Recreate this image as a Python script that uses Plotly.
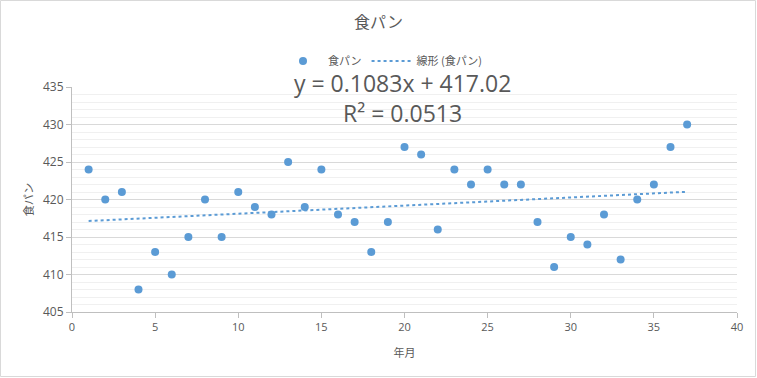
import numpy as np
import plotly.graph_objects as go

months = list(range(1, 38))
bread = [424, 420, 421, 408, 413, 410, 415, 420, 415, 421,
         419, 418, 425, 419, 424, 418, 417, 413, 417, 427,
         426, 416, 424, 422, 424, 422, 422, 417, 411, 415,
         414, 418, 412, 420, 422, 427, 430]
series_name = "食パン"
trend_name = "線形 (食パン)"
eq_text = "y = 0.1083x + 417.02"
r2_text = "R² = 0.0513"

slope, intercept = np.polyfit(months, bread, 1)
tx = [min(months), max(months)]
ty = [slope * v + intercept for v in tx]

W, H = 757, 378
L, R, T, B = 72, 20, 87, 66
pw, ph = W - L - R, H - T - B

color = "#5B9BD5"
txt = "#595959"
font = "Open Sans, Noto Sans CJK JP, sans-serif"

fig = go.Figure()
fig.add_trace(go.Scatter(x=months, y=bread, mode="markers", name=series_name,
                         marker=dict(color=color, size=8)))
fig.add_trace(go.Scatter(x=tx, y=ty, mode="lines", name=trend_name,
                         line=dict(color=color, width=2, dash="dot")))

fig.update_layout(
    width=W, height=H,
    margin=dict(l=L, r=R, t=T, b=B),
    paper_bgcolor="white", plot_bgcolor="white",
    font=dict(family=font, color=txt, size=11),
    title=dict(text=series_name, x=0.5, xref="container", y=1 - 22 / H, yref="container",
               xanchor="center", yanchor="middle",
               font=dict(size=16, color=txt, family="Noto Sans CJK JP")),
    legend=dict(orientation="h", x=(383 - L) / pw, xanchor="center",
                y=1 + (T - 61) / ph, yanchor="middle",
                font=dict(size=11, color=txt, family="Noto Sans CJK JP"),
                itemwidth=40, bgcolor="rgba(0,0,0,0)"),
    showlegend=True,
)

fig.update_xaxes(range=[0, 40], dtick=5, tick0=0, showgrid=False, zeroline=False,
                 showline=True, linecolor="#BFBFBF", linewidth=1,
                 ticks="outside", ticklen=5, tickcolor="#BFBFBF",
                 tickfont=dict(size=11, color=txt),
                 title=dict(text="年月", font=dict(size=11, color=txt, family="Noto Sans CJK JP"),
                            standoff=16))
fig.update_yaxes(range=[405, 435], dtick=5, tick0=405, showgrid=True, gridcolor="#D9D9D9",
                 gridwidth=1, zeroline=False,
                 showline=True, linecolor="#BFBFBF", linewidth=1,
                 ticks="outside", ticklen=5, tickcolor="#BFBFBF",
                 tickfont=dict(size=12, color=txt),
                 minor=dict(dtick=1, showgrid=True, gridcolor="#F0F0F0", gridwidth=1),
                 title=dict(text=series_name, font=dict(size=11, color=txt, family="Noto Sans CJK JP"),
                            standoff=7))

fig.add_annotation(text=eq_text, xref="paper", yref="paper",
                   x=(402 - L) / pw, y=1 + (T - 83) / ph, xanchor="center", yanchor="middle",
                   showarrow=False, font=dict(size=23, color=txt, family=font))
fig.add_annotation(text=r2_text, xref="paper", yref="paper",
                   x=(402 - L) / pw, y=1 - (113 - T) / ph, xanchor="center", yanchor="middle",
                   showarrow=False, font=dict(size=23, color=txt, family=font))

fig.add_shape(type="rect", xref="paper", yref="paper", layer="above",
              x0=-(L - 0.5) / pw, x1=1 + (R - 1.5) / pw,
              y0=-(B - 1.5) / ph, y1=1 + (T - 0.5) / ph,
              line=dict(color="#D9D9D9", width=1))

fig.write_html("out.html", config={"displayModeBar": False},
               post_script="document.body.style.margin='0';")
